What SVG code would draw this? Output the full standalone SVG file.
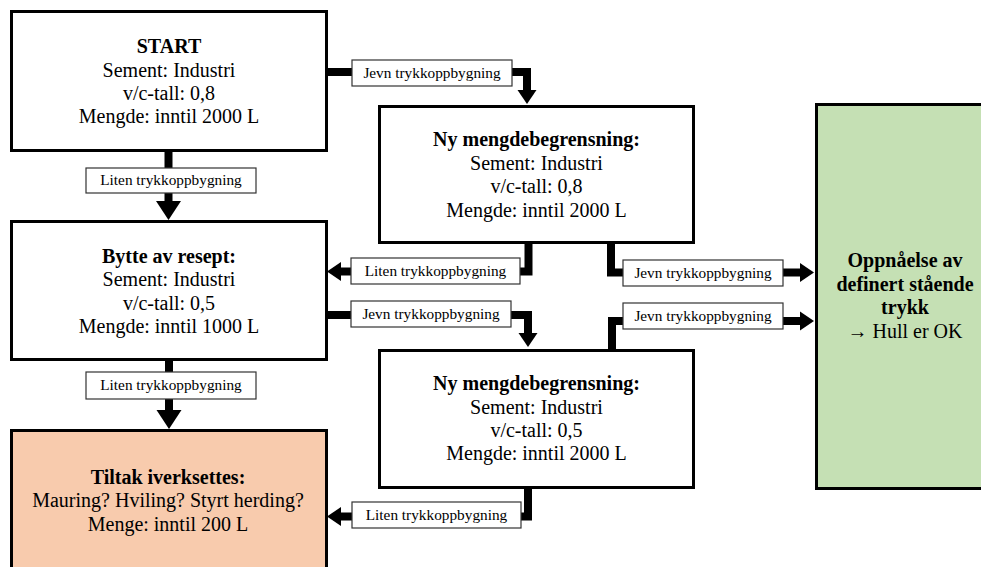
<svg xmlns="http://www.w3.org/2000/svg" width="981" height="567" viewBox="0 0 981 567">
  <defs>
    <style>
      .box { fill: #ffffff; stroke: #000000; stroke-width: 3; }
      .stop { fill: #f8cbad; stroke: #000000; stroke-width: 3; }
      .ok { fill: #c5e0b4; stroke: #000000; stroke-width: 3; }
      .t { font-family: "Liberation Serif", "Times New Roman", serif; font-size: 20px; fill: #000000; text-anchor: middle; }
      .b { font-weight: bold; }
      .wire { fill: none; stroke: #000000; stroke-width: 8; stroke-linejoin: miter; stroke-linecap: butt; }
      .tag { fill: #ffffff; stroke: #333333; stroke-width: 1.2; }
      .tt { font-family: "Liberation Serif", "Times New Roman", serif; font-size: 15.3px; fill: #000000; text-anchor: middle; }
    </style>
    <!-- arrowheads: the line ends at the arrow base, the head extends forward -->
    <marker id="ah" markerUnits="userSpaceOnUse" markerWidth="16" markerHeight="20" refX="0" refY="9.5" orient="auto" overflow="visible">
      <path d="M0,0 L14,9.5 L0,19 Z" fill="#000000"/>
    </marker>
    <marker id="ahL" markerUnits="userSpaceOnUse" markerWidth="20" markerHeight="26" refX="0" refY="12.5" orient="auto" overflow="visible">
      <path d="M0,0 L19,12.5 L0,25 Z" fill="#000000"/>
    </marker>
  </defs>

  <rect width="981" height="567" fill="#ffffff"/>

  <!-- connectors -->
  <g id="connectors">
    <path class="wire" d="M168.5,152 V201" marker-end="url(#ahL)"/>
    <path class="wire" d="M169,361 V410" marker-end="url(#ahL)"/>
    <path class="wire" d="M328,72 H527 V90" marker-end="url(#ah)"/>
    <path class="wire" d="M528.5,244 V271.5 H341" marker-end="url(#ah)"/>
    <path class="wire" d="M611,244 V272.5 H800" marker-end="url(#ah)"/>
    <path class="wire" d="M328,315 H528 V333" marker-end="url(#ah)"/>
    <path class="wire" d="M612,349 V321 H800" marker-end="url(#ah)"/>
    <path class="wire" d="M528,489 V516.5 H341" marker-end="url(#ah)"/>

    <rect class="tag" x="86" y="168" width="170" height="25"/>
    <text class="tt" x="171" y="184.5">Liten trykkoppbygning</text>

    <rect class="tag" x="352" y="60" width="160" height="26"/>
    <text class="tt" x="432" y="77.5">Jevn trykkoppbygning</text>

    <rect class="tag" x="351" y="258" width="169" height="26"/>
    <text class="tt" x="435.5" y="276">Liten trykkoppbygning</text>

    <rect class="tag" x="623" y="260" width="160" height="26"/>
    <text class="tt" x="703" y="277.5">Jevn trykkoppbygning</text>

    <rect class="tag" x="351" y="301" width="160" height="26"/>
    <text class="tt" x="431" y="319">Jevn trykkoppbygning</text>

    <rect class="tag" x="623" y="303" width="160" height="26"/>
    <text class="tt" x="703" y="320.5">Jevn trykkoppbygning</text>

    <rect class="tag" x="352" y="502" width="169" height="26"/>
    <text class="tt" x="436.5" y="520">Liten trykkoppbygning</text>

    <rect class="tag" x="86" y="372" width="170" height="27"/>
    <text class="tt" x="171" y="390">Liten trykkoppbygning</text>
  </g>

  <!-- nodes -->
  <g id="start">
    <rect class="box" x="11.5" y="11.5" width="315" height="139"/>
    <text class="t b" x="169" y="53">START</text>
    <text class="t" x="169" y="76.5">Sement: Industri</text>
    <text class="t" x="169" y="99.5">v/c-tall: 0,8</text>
    <text class="t" x="169" y="122.5">Mengde: inntil 2000 L</text>
  </g>

  <g id="bytte">
    <rect class="box" x="11.5" y="221.5" width="315" height="138"/>
    <text class="t b" x="169" y="262.5">Bytte av resept:</text>
    <text class="t" x="169" y="286">Sement: Industri</text>
    <text class="t" x="169" y="309.5">v/c-tall: 0,5</text>
    <text class="t" x="169" y="332.5">Mengde: inntil 1000 L</text>
  </g>

  <g id="tiltak">
    <rect class="stop" x="11.5" y="430.5" width="315" height="160"/>
    <text class="t b" x="168" y="483.5">Tiltak iverksettes:</text>
    <text class="t" x="168" y="507">Mauring? Hviling? Styrt herding?</text>
    <text class="t" x="168" y="530.5">Menge: inntil 200 L</text>
  </g>

  <g id="ny1">
    <rect class="box" x="379.5" y="106.5" width="314" height="136"/>
    <text class="t b" x="536.5" y="146">Ny mengdebegrensning:</text>
    <text class="t" x="536.5" y="170">Sement: Industri</text>
    <text class="t" x="536.5" y="193">v/c-tall: 0,8</text>
    <text class="t" x="536.5" y="216.5">Mengde: inntil 2000 L</text>
  </g>

  <g id="ny2">
    <rect class="box" x="379.5" y="350.5" width="314" height="137"/>
    <text class="t b" x="536.5" y="390">Ny mengdebegrensning:</text>
    <text class="t" x="536.5" y="413.5">Sement: Industri</text>
    <text class="t" x="536.5" y="436.5">v/c-tall: 0,5</text>
    <text class="t" x="536.5" y="460">Mengde: inntil 2000 L</text>
  </g>

  <g id="ok">
    <rect class="ok" x="816.5" y="104.5" width="200" height="384"/>
    <text class="t b" x="905" y="266.5">Oppnåelse av</text>
    <text class="t b" x="905" y="290.5">definert stående</text>
    <text class="t b" x="905" y="314">trykk</text>
    <text class="t" x="905" y="338">→ Hull er OK</text>
  </g>
</svg>
